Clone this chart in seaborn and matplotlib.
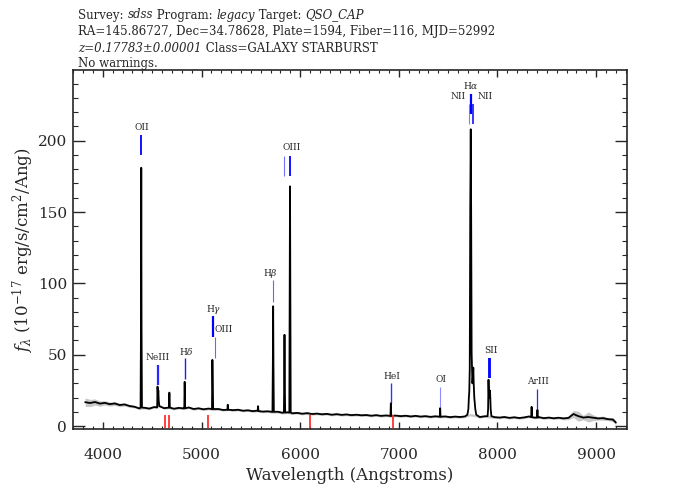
import numpy as np
import pandas as pd
import matplotlib
matplotlib.use("Agg")
import matplotlib.pyplot as plt
import seaborn as sns

# -----------------------------
# Data
# -----------------------------
# continuum (with noise wiggles), Angstrom / 1e-17 erg/s/cm2/A
cont_wave = [3820, 3870, 3920, 3970, 4020, 4070, 4120, 4170, 4220, 4270,
             4320, 4370, 4420, 4470, 4520, 4570, 4620, 4670, 4720, 4770,
             4820, 4870, 4920, 4970, 5020, 5070, 5120, 5170, 5220, 5270,
             5320, 5370, 5420, 5470, 5520, 5570, 5620, 5670, 5720, 5770,
             5820, 5870, 5920, 5970, 6020, 6070, 6120, 6170, 6220, 6270,
             6320, 6370, 6420, 6470, 6520, 6570, 6620, 6670, 6720, 6770,
             6820, 6870, 6920, 6970, 7020, 7070, 7120, 7170, 7220, 7270,
             7320, 7370, 7420, 7470, 7520, 7570, 7620, 7670, 7720, 7770,
             7820, 7870, 7920, 7970, 8020, 8070, 8120, 8170, 8220, 8270,
             8320, 8370, 8420, 8470, 8520, 8570, 8620, 8670, 8720, 8770,
             8820, 8870, 8920, 8970, 9020, 9070, 9120, 9170, 9200]
cont_flux = [16.8, 16.2, 16.9, 15.8, 16.3, 15.4, 15.9, 14.8, 15.2, 14.1,
             13.6, 12.4, 12.9, 12.3, 13.4, 14.5, 12.6, 13.0, 12.2, 12.8,
             12.4, 13.1, 12.0, 12.5, 11.8, 12.3, 11.6, 12.0, 11.3, 11.8,
             11.2, 11.5, 10.8, 11.1, 10.5, 10.9, 10.2, 10.4, 9.8, 10.1,
             9.4, 9.7, 9.0, 9.3, 8.7, 9.1, 8.5, 8.8, 8.3, 8.6,
             8.0, 8.4, 7.9, 8.2, 7.7, 8.0, 7.6, 7.8, 7.3, 7.7,
             7.2, 7.5, 7.1, 7.4, 7.0, 7.3, 6.8, 7.2, 6.7, 7.0,
             6.5, 6.9, 6.6, 6.8, 6.3, 6.7, 6.4, 6.8, 8.0, 7.5,
             6.4, 6.9, 6.5, 6.3, 6.0, 6.4, 5.8, 6.2, 5.7, 6.1,
             6.8, 6.0, 6.3, 5.6, 6.0, 5.5, 5.9, 5.4, 5.8, 8.5,
             7.0, 6.0, 6.4, 5.9, 5.4, 5.6, 4.9, 4.6, 2.5]
cont_err = ([3.0, 2.5, 2.2, 1.8, 1.5, 1.4, 1.3, 1.2, 1.1, 1.0]
            + [0.8] * 87
            + [1.0, 1.2, 2.5, 3.5, 1.5, 3.5, 2.0, 1.2, 1.5, 1.0, 1.5, 1.5])

# emission line profiles (wavelength, flux) points
line_wave = [
    [4382, 4386, 4389, 4392, 4396],                     # [OII]
    [4550, 4554, 4558, 4562, 4566, 4572],               # [NeIII]
    [4670, 4674, 4679],                                 # NeIII+Heps
    [4825, 4829, 4834],                                 # Hdelta
    [5106, 5110, 5114, 5118],                           # Hgamma
    [5262, 5266, 5270],                                 # HeI
    [5569, 5573, 5577],
    [5719, 5723, 5726, 5729, 5733],                     # Hbeta
    [5835, 5838, 5841, 5844, 5848],                     # [OIII]
    [5890, 5894, 5897, 5900, 5904],                     # [OIII]
    [6915, 6919, 6923],                                 # HeI
    [7415, 7419, 7423],                                 # [OI]
    [7695, 7705, 7710, 7714, 7719, 7724, 7729, 7733, 7738,
     7746, 7751, 7755, 7759, 7765, 7775, 7785],         # Halpha + [NII]
    [7900, 7905, 7909, 7913, 7918, 7922, 7926, 7931, 7938],  # [SII]
    [8341, 8346, 8351],
    [8400, 8405, 8410],                                 # [ArIII]
]
line_flux = [
    [13, 68, 181, 68, 13],
    [13, 27.7, 22, 25, 18, 14],
    [13, 23.5, 13],
    [12.5, 31, 12.5],
    [12, 46.4, 30, 12],
    [11.5, 15, 11.5],
    [10.9, 14, 10.5],
    [10, 44, 84, 44, 10],
    [9.5, 30, 64, 30, 9.5],
    [9.5, 107, 168, 107, 9.5],
    [7.2, 16, 7.2],
    [6.6, 12.6, 6.6],
    [8, 12, 20, 24, 40, 152, 208, 152, 51, 30, 35, 41, 30, 20, 12, 8],
    [7, 12, 32.5, 22, 20, 25, 22, 12, 7],
    [6.3, 13.5, 6.3],
    [6, 11.4, 6],
]

# line identification marks
mark_wave = [4390, 4557, 4831, 5112, 5139, 5726, 5841, 5897, 6921, 7420,
             7713, 7730, 7755, 7911, 7928, 8405]
mark_lo = [190, 29, 33, 62.5, 48, 87, 175, 175, 16.5, 13.5,
           212, 219, 212, 33.5, 33.5, 11.5]
mark_hi = [204, 43, 48, 77, 62.5, 102.5, 189, 189, 30, 27.5,
           226, 233, 226, 47.5, 47.5, 26]
mark_lw = [1.3, 1.6, 1.0, 1.6, 0.8, 0.8, 0.8, 1.3, 1.0, 0.8,
           0.8, 1.6, 1.3, 1.3, 1.3, 0.9]
mark_alpha = [1.0, 0.85, 0.9, 1.0, 0.6, 0.6, 0.55, 1.0, 0.8, 0.45,
              0.5, 1.0, 0.85, 1.0, 1.0, 0.85]

label_text = ["OII", "NeIII", r"H$\delta$", r"H$\gamma$", "OIII", r"H$\beta$",
              "OIII", "HeI", "OI", "NII", r"H$\alpha$", "NII", "SII", "ArIII"]
label_wave = [4390, 4556, 4845, 5123, 5225, 5694, 5917, 6930, 7427, 7603,
              7730, 7877, 7932, 8414]
label_y = [209.5, 48, 52.5, 81.5, 67.5, 107, 195.5, 35, 32.5, 231,
           238.5, 231, 53, 31]

# absorption line marks (red, bottom)
abs_wave = [4634, 4675, 5069, 6096, 6942]

# -----------------------------
# Build spectrum table
# -----------------------------
spec = pd.DataFrame({"wave": cont_wave, "flux": cont_flux})
for w, f in zip(line_wave, line_flux):
    spec = spec[(spec["wave"] < min(w) - 4) | (spec["wave"] > max(w) + 4)]
    spec = pd.concat([spec, pd.DataFrame({"wave": w, "flux": f})])
spec = spec.sort_values("wave").reset_index(drop=True)

# -----------------------------
# Plot
# -----------------------------
sns.set_style("ticks")
plt.rcParams["font.family"] = ["DejaVu Serif"]
plt.rcParams["mathtext.fontset"] = "dejavuserif"

fig = plt.figure(figsize=(7, 5), dpi=100)
ax = fig.add_axes([0.1047, 0.142, 0.7906, 0.718])

ax.fill_between(cont_wave, np.array(cont_flux) - np.array(cont_err),
                np.array(cont_flux) + np.array(cont_err),
                color="#c8c8c8", lw=0)

sns.lineplot(data=spec, x="wave", y="flux", color="black", lw=1.3,
             estimator=None, sort=True, ax=ax)

for w, lo, hi, lw, a in zip(mark_wave, mark_lo, mark_hi, mark_lw, mark_alpha):
    ax.vlines(w, lo, hi, color="blue", lw=lw, alpha=a)
for t, w, y in zip(label_text, label_wave, label_y):
    ax.text(w, y, t, fontsize=6.5, ha="center", va="center")

ax.vlines(abs_wave, -1.5, 8, color="#ff3030", lw=1.3)

ax.set_xlim(3700, 9310)
ax.set_ylim(-2, 249.5)
ax.set_xticks([4000, 5000, 6000, 7000, 8000, 9000])
ax.set_xticks(range(3700, 9301, 100), minor=True)
ax.set_yticks([0, 50, 100, 150, 200])
ax.set_yticks(range(0, 241, 10), minor=True)
ax.set_xlabel("")
ax.set_ylabel("")
for s in ax.spines.values():
    s.set_linewidth(1.2)
    s.set_visible(True)
ax.tick_params(axis="x", which="major", direction="in", length=5, width=1,
               top=True, labelsize=11, pad=14)
ax.tick_params(axis="x", which="minor", direction="in", length=2.5, width=0.8,
               top=True)
ax.tick_params(axis="y", which="major", direction="in", length=8.5, width=1,
               right=True, labelsize=11, pad=4.5)
ax.tick_params(axis="y", which="minor", direction="in", length=3.6, width=0.8,
               right=True)

fig.text(350 / 700, 1 - 476 / 500, "Wavelength (Angstroms)", fontsize=12,
         ha="center", va="center")
fig.text(23 / 700, 1 - 250 / 500,
         r"$f_\lambda$ (10$^{-17}$ erg/s/cm$^2$/Ang)", fontsize=12,
         ha="center", va="center", rotation=90)

# header lines with italic parts
header = [
    [("Survey: ", "normal"), ("sdss", "italic"), (" Program: ", "normal"),
     ("legacy", "italic"), (" Target: ", "normal"), ("QSO_CAP", "italic")],
    [("RA=145.86727, Dec=34.78628, Plate=1594, Fiber=116, MJD=52992", "normal")],
    [("z=0.17783\u00b10.00001", "italic"), (" Class=GALAXY STARBURST", "normal")],
    [("No warnings.", "normal")],
]
header_y = [15, 31.5, 48, 63]
renderer = fig.canvas.get_renderer()
for parts, ypx in zip(header, header_y):
    x = 78.5 / 700
    for s, st in parts:
        t = fig.text(x, 1 - ypx / 500, s, fontsize=8.5, style=st, va="center")
        x += t.get_window_extent(renderer).width / fig.bbox.width

plt.savefig("out.png", dpi=100)
